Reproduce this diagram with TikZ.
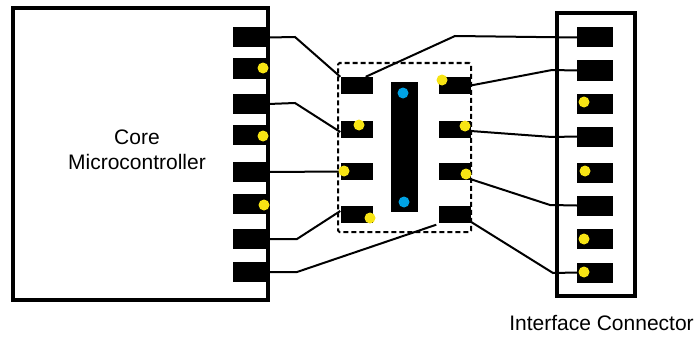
\documentclass[tikz,border=0pt]{standalone}
\usepackage{fontspec}
\setmainfont{Liberation Sans}
\usepackage{xcolor}
\usepackage{tikz}
\definecolor{pinyellow}{RGB}{247,228,20}
\definecolor{padblue}{RGB}{0,162,228}

\begin{document}
\begin{tikzpicture}[x=1pt,y=-1pt,
		pad/.style={shape=rectangle,fill=black,inner sep=0pt,minimum width=35pt,minimum height=20pt},
		chippad/.style={shape=rectangle,fill=black,inner sep=0pt,minimum width=32pt,minimum height=17pt},
		conpad/.style={shape=rectangle,fill=black,inner sep=0pt,minimum width=36pt,minimum height=20pt},
		wire/.style={line width=2pt,black},
		frame/.style={draw=black,line width=3.2pt},
		ydot/.style={fill=pinyellow},
		bdot/.style={fill=padblue}]
			\useasboundingbox (0,0) rectangle (698,337);
			%% bend points
			\coordinate (b1) at (295,37);
			\coordinate (b2) at (295,103);
			\coordinate (b4) at (297,239);
			\coordinate (b5) at (297,272);
			\coordinate (b6) at (455,36);
			\coordinate (b7) at (552,70);
			\coordinate (b8) at (552,137);
			\coordinate (b9) at (550,205);
			\coordinate (b10) at (553,273);
			%% frames
			\node[frame,shape=rectangle,minimum width=255pt,minimum height=292pt,inner sep=0pt] (core) at (140.5,154) {};
			\node[frame,shape=rectangle,minimum width=78pt,minimum height=283pt,inner sep=0pt] (con) at (596,154.5) {};
			\node[draw=black,line width=2pt,dash pattern=on 5pt off 3pt,rounded corners=1.5pt,shape=rectangle,minimum width=133pt,minimum height=169pt,inner sep=0pt] (chip) at (404.5,147.5) {};
			%% texts
			\node[align=center,font=\fontsize{21}{25}\selectfont] (coretext) at (137,150) {Core\\Microcontroller};
			\node[font=\fontsize{21}{25}\selectfont] (context) at (601.5,323) {Interface Connector};
			%% core pads
			\node[pad] (lp1) at (250.5,37.5) {};
			\node[pad] (lp2) at (250.5,68.5) {};
			\node[pad] (lp3) at (250.5,104) {};
			\node[pad] (lp4) at (250.5,135) {};
			\node[pad] (lp5) at (250.5,172) {};
			\node[pad] (lp6) at (250.5,204) {};
			\node[pad] (lp7) at (250.5,239) {};
			\node[pad] (lp8) at (250.5,272) {};
			%% chip pads
			\node[chippad] (cl1) at (356.5,85.5) {};
			\node[chippad] (cl2) at (356.5,129) {};
			\node[chippad] (cl3) at (356.5,171.5) {};
			\node[chippad] (cl4) at (356.5,214) {};
			\node[chippad] (cr1) at (454.5,85.5) {};
			\node[chippad] (cr2) at (454.5,129) {};
			\node[chippad] (cr3) at (454.5,171.5) {};
			\node[chippad] (cr4) at (454.5,214) {};
			\node[shape=rectangle,fill=black,inner sep=0pt,minimum width=27pt,minimum height=130pt] (bar) at (404.5,147) {};
			%% connector pads
			\node[conpad] (ip1) at (595,37.5) {};
			\node[conpad] (ip2) at (595,70.5) {};
			\node[conpad] (ip3) at (595,104) {};
			\node[conpad] (ip4) at (595,136.5) {};
			\node[conpad] (ip5) at (595,173) {};
			\node[conpad] (ip6) at (595,205.5) {};
			\node[conpad] (ip7) at (595,239) {};
			\node[conpad] (ip8) at (595,272.5) {};
			%% lines
			\draw[wire] (lp1.east) -- (b1) -- (cl1.north west);
			\draw[wire] (lp3.east) -- (b2) -- ([yshift=-3pt]cl2.west);
			\draw[wire] (lp5.east) -- (cl3.west);
			\draw[wire] (lp7.east) -- (b4) -- ([yshift=3pt]cl4.west);
			\draw[wire] (lp8.east) -- (b5) -- ([xshift=-2pt,yshift=-2pt]cr4.south west);
			\draw[wire] ([xshift=-7pt]cl1.north east) -- (b6) -- (ip1.west);
			\draw[wire] (cr1.east) -- (b7) -- (ip2.west);
			\draw[wire] ([yshift=-2pt]cr2.east) -- (b8) -- (ip4.west);
			\draw[wire] ([yshift=1pt]cr3.south east) -- (b9) -- (ip6.west);
			\draw[wire] ([yshift=1pt]cr4.south east) -- (b10) -- (ip8.west);
			%% dots
			\fill[ydot] (263,68) circle (5.5pt);
			\fill[ydot] (263,136) circle (5.5pt);
			\fill[ydot] (264,205) circle (5.5pt);
			\fill[ydot] (359,125) circle (5.5pt);
			\fill[ydot] (344,171) circle (5.5pt);
			\fill[ydot] (370,218) circle (5.5pt);
			\fill[ydot] (442,80) circle (5.5pt);
			\fill[ydot] (465,126) circle (5.5pt);
			\fill[ydot] (466,174) circle (5.5pt);
			\fill[ydot] (584,102) circle (5.5pt);
			\fill[ydot] (585,171) circle (5.5pt);
			\fill[ydot] (584,239) circle (5.5pt);
			\fill[ydot] (584,272) circle (5.5pt);
			\fill[bdot] (403,93) circle (5.5pt);
			\fill[bdot] (404,202) circle (5.5pt);
		\end{tikzpicture}
\end{document}
